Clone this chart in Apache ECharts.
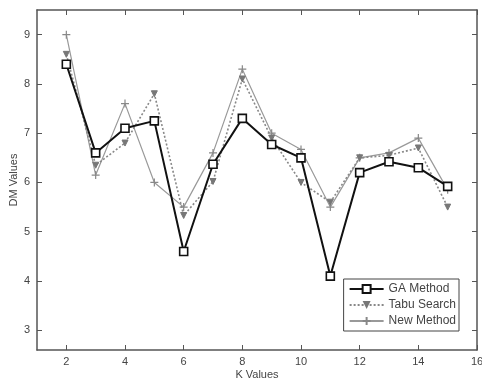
<!DOCTYPE html>
<html>
<head>
<meta charset="utf-8">
<script src="https://cdn.jsdelivr.net/npm/echarts@6/dist/echarts.min.js"></script>
<style>
  html, body { margin: 0; padding: 0; background: #fff; }
  #chart { width: 482px; height: 380px; }
</style>
</head>
<body>
<div id="chart"></div>
<script>
// K values on the x axis
const kValues = [2, 3, 4, 5, 6, 7, 8, 9, 10, 11, 12, 13, 14, 15]
// DM values
const gaMethod = [8.4, 6.6, 7.1, 7.25, 4.6, 6.37, 7.3, 6.77, 6.5, 4.1, 6.2, 6.42, 6.3, 5.92]
const tabuSearch = [8.6, 6.35, 6.8, 7.8, 5.33, 6.02, 8.1, 6.9, 6.0, 5.6, 6.5, 6.55, 6.7, 5.5]
const newMethod = [9.0, 6.15, 7.6, 6.0, 5.5, 6.6, 8.3, 7.0, 6.67, 5.5, 6.5, 6.6, 6.9, 5.85]
const xTicks = [2, 4, 6, 8, 10, 12, 14, 16]
const yTicks = [3, 4, 5, 6, 7, 8, 9]

const pair = (ys) => kValues.map((k, i) => [k, ys[i]])

const chart = echarts.init(document.getElementById('chart'))

const axisColor = '#555'
const fontFamily = 'Liberation Sans, Arial, sans-serif'
const plusPath = 'path://M5,0 L5,10 M0,5 L10,5'

const option = {
  backgroundColor: '#fff',
  animation: false,
  textStyle: { color: '#333', fontSize: 11, fontFamily: fontFamily },
  grid: { left: 37, right: 5, top: 10, bottom: 30, outerBoundsMode: 'none' },
  legend: {
    right: 23,
    bottom: 49,
    orient: 'vertical',
    itemGap: 4,
    itemWidth: 34,
    itemHeight: 10,
    padding: [4, 3, 4, 5],
    borderColor: '#444',
    borderWidth: 1,
    backgroundColor: '#fff',
    textStyle: { color: '#444', fontSize: 12, fontFamily: fontFamily },
    data: ['GA Method', 'Tabu Search', 'New Method']
  },
  xAxis: [
    {
      type: 'value',
      min: 1,
      max: 16,
      name: 'K Values',
      nameLocation: 'middle',
      nameGap: 19,
      nameMoveOverlap: false,
      nameTextStyle: { color: '#444', fontSize: 11 },
      axisLine: { onZero: false, lineStyle: { color: axisColor, width: 1.5 } },
      axisTick: { inside: true, length: 5, customValues: xTicks, lineStyle: { color: axisColor } },
      axisLabel: { customValues: xTicks, color: '#444', fontSize: 11, margin: 6 },
      splitLine: { show: false }
    },
    {
      type: 'value',
      position: 'top',
      min: 1,
      max: 16,
      axisLine: { onZero: false, lineStyle: { color: axisColor, width: 1.5 } },
      axisTick: { inside: true, length: 5, customValues: xTicks, lineStyle: { color: axisColor } },
      axisLabel: { show: false },
      splitLine: { show: false }
    }
  ],
  yAxis: [
    {
      type: 'value',
      min: 2.6,
      max: 9.5,
      name: 'DM Values',
      nameLocation: 'middle',
      nameGap: 18,
      nameMoveOverlap: false,
      nameTextStyle: { color: '#444', fontSize: 11 },
      axisLine: { show: true, onZero: false, lineStyle: { color: axisColor, width: 1.5 } },
      axisTick: { show: true, inside: true, length: 5, customValues: yTicks, lineStyle: { color: axisColor } },
      axisLabel: { customValues: yTicks, color: '#444', fontSize: 11, margin: 7 },
      splitLine: { show: false }
    },
    {
      type: 'value',
      position: 'right',
      min: 2.6,
      max: 9.5,
      axisLine: { show: true, onZero: false, lineStyle: { color: axisColor, width: 1.5 } },
      axisTick: { show: true, inside: true, length: 5, customValues: yTicks, lineStyle: { color: axisColor } },
      axisLabel: { show: false },
      splitLine: { show: false }
    }
  ],
  series: [
    {
      name: 'New Method',
      type: 'line',
      data: pair(newMethod),
      symbol: plusPath,
      symbolSize: 8,
      z: 2,
      lineStyle: { color: '#999', width: 1.2 },
      itemStyle: { color: '#fff', borderColor: '#888', borderWidth: 1.2 }
    },
    {
      name: 'Tabu Search',
      type: 'line',
      data: pair(tabuSearch),
      symbol: 'triangle',
      symbolRotate: 180,
      symbolSize: 6,
      z: 3,
      lineStyle: { color: '#888', width: 1.6, type: [2, 2] },
      itemStyle: { color: '#777', borderColor: '#777' }
    },
    {
      name: 'GA Method',
      type: 'line',
      data: pair(gaMethod),
      symbol: 'rect',
      symbolSize: 8,
      z: 4,
      lineStyle: { color: '#111', width: 2 },
      itemStyle: { color: '#fff', borderColor: '#111', borderWidth: 1.6 }
    }
  ]
}

chart.setOption(option)
</script>
</body>
</html>
